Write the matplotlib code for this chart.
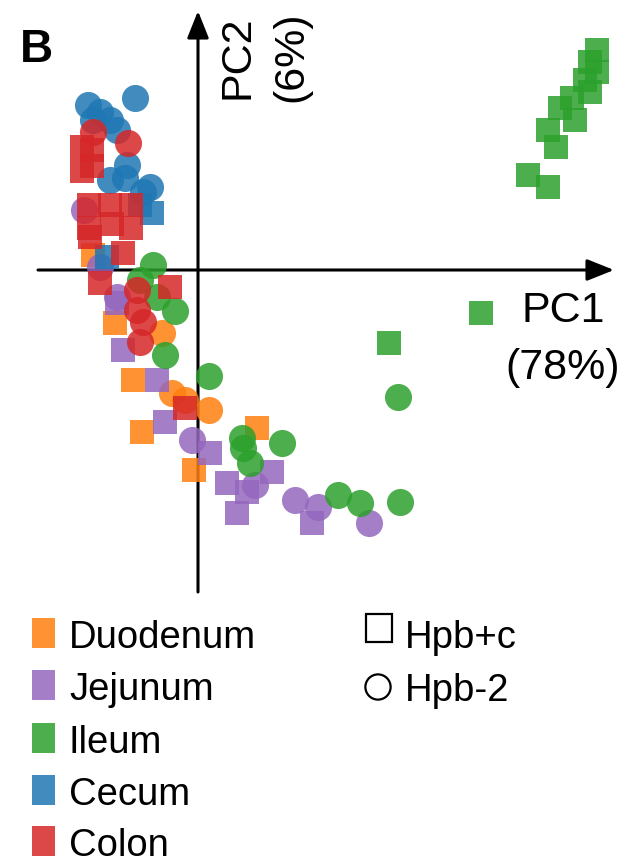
import matplotlib
matplotlib.use("Agg")
import matplotlib.pyplot as plt
from matplotlib.patches import Rectangle
import numpy as np

plt.rcParams['font.family'] = ['Liberation Sans', 'DejaVu Sans']

# ---- data: PCA scores (PC1, PC2) ----
tissues = ["Duodenum", "Jejunum", "Ileum", "Cecum", "Colon"]
colors = ["#ff7f0e", "#9467bd", "#2ca02c", "#1f77b4", "#d62728"]
strains = ["Hpb+c", "Hpb-2"]

duodenum_sq_pc1 = [-10.5, -8.3, -6.5, -5.6, -0.4, 5.9]
duodenum_sq_pc2 = [1.5, -5.3, -11.0, -16.2, -20.0, -15.8]
duodenum_ci_pc1 = [-3.6, -2.6, 1.1, -1.3]
duodenum_ci_pc2 = [-6.3, -12.3, -14.0, -13.0]

jejunum_sq_pc1 = [-8.1, -7.5, -4.1, -3.3, 1.2, 2.9, 3.9, 4.9, 7.4, 11.4]
jejunum_sq_pc2 = [-3.3, -8.0, -11.0, -15.2, -18.3, -21.3, -24.3, -22.2, -20.2, -25.3]
jejunum_ci_pc1 = [-11.4, -9.8, -8.1, -0.6, 5.7, 9.7, 12.0, 17.1]
jejunum_ci_pc2 = [6.0, 0.3, -2.7, -17.0, -21.5, -23.0, -23.7, -25.3]

ileum_sq_pc1 = [39.9, 39.2, 39.9, 38.7, 39.2, 37.4, 36.2, 37.7, 35.0, 35.8, 33.0, 35.0, 19.1, 28.3]
ileum_sq_pc2 = [22.0, 20.8, 19.8, 19.0, 17.8, 17.2, 16.2, 15.0, 14.0, 12.3, 9.5, 8.3, -7.3, -4.3]
ileum_ci_pc1 = [20.0, 20.2, 16.2, 14.0, 8.4, 4.4, 4.5, 5.2, 1.1, -3.3, -2.3, -4.1, -4.5, -5.8]
ileum_ci_pc2 = [-12.7, -23.2, -23.3, -22.5, -17.3, -16.8, -17.8, -19.3, -10.6, -8.5, -4.1, -2.7, 0.5, -1.0]

cecum_sq_pc1 = [-4.6, -9.1, -5.8]
cecum_sq_pc2 = [5.7, 1.3, 6.5]
cecum_ci_pc1 = [-6.3, -11.0, -9.8, -8.8, -10.5, -8.1, -7.1, -8.8, -4.8, -7.3, -5.5]
cecum_ci_pc2 = [17.2, 16.5, 15.8, 15.0, 15.0, 14.0, 10.5, 9.0, 8.3, 9.2, 7.8]

colon_sq_pc1 = [-11.6, -10.6, -11.6, -10.6, -10.9, -8.8, -6.7, -10.9, -8.6, -6.7,
                -10.8, -7.5, -9.8, -2.8, -1.3]
colon_sq_pc2 = [12.3, 12.0, 9.9, 10.4, 6.5, 6.5, 6.5, 4.2, 4.6, 4.2,
                3.3, 1.7, -1.3, -1.7, -13.8]
colon_ci_pc1 = [-10.5, -7.0, -6.1, -6.1, -5.5, -5.8]
colon_ci_pc2 = [13.8, 12.7, -2.0, -4.0, -5.2, -7.2]

groups = [
    (duodenum_sq_pc1, duodenum_sq_pc2, duodenum_ci_pc1, duodenum_ci_pc2),
    (jejunum_sq_pc1, jejunum_sq_pc2, jejunum_ci_pc1, jejunum_ci_pc2),
    (ileum_sq_pc1, ileum_sq_pc2, ileum_ci_pc1, ileum_ci_pc2),
    (cecum_sq_pc1, cecum_sq_pc2, cecum_ci_pc1, cecum_ci_pc2),
    (colon_sq_pc1, colon_sq_pc2, colon_ci_pc1, colon_ci_pc2),
]

pc1_label = ["PC1", "(78%)"]
pc2_label = ["PC2", "(6%)"]
panel_label = "B"

# ---- figure ----
W, H = 644, 864
fig = plt.figure(figsize=(W / 100, H / 100), dpi=100)
ax = fig.add_axes([0, 0, 1, 1])
ax.set_xlim(-19.8, 44.6)
ax.set_ylim(-59.4, 27.0)
ax.axis("off")


def X(px):
    return (px - 198) / 10.0


def Y(py):
    return (270 - py) / 10.0


alpha = 0.85
for (sx, sy, cx, cy), col in zip(groups, colors):
    ax.scatter(sx, sy, marker="s", s=300, color=col, alpha=alpha, linewidths=0, zorder=3)
    ax.scatter(cx, cy, marker="o", s=380, color=col, alpha=alpha, linewidths=0, zorder=3)

# axes arrows through origin
arrow = dict(arrowstyle="-|>,head_length=0.55,head_width=0.22", lw=2.2,
             color="black", shrinkA=0, shrinkB=0, mutation_scale=30)
ax.annotate("", xy=(X(614), 0), xytext=(X(38), 0), arrowprops=arrow, zorder=2)
ax.annotate("", xy=(0, Y(11)), xytext=(0, Y(592)), arrowprops=arrow, zorder=2)

# axis labels
ax.text(X(563), Y(322), pc1_label[0], fontsize=31, ha="center", va="baseline")
ax.text(X(563), Y(379), pc1_label[1], fontsize=31, ha="center", va="baseline")
ax.text(X(249), Y(57), pc2_label[0], fontsize=31, ha="center", va="baseline",
        rotation=90, rotation_mode="anchor")
ax.text(X(302), Y(57), pc2_label[1], fontsize=31, ha="center", va="baseline",
        rotation=90, rotation_mode="anchor")

# panel label
ax.text(X(20), Y(62), panel_label, fontsize=33, fontweight="bold", ha="left", va="baseline")

# tissue legend
row_centers = [633, 685, 738, 790, 841]
for name, col, yc in zip(tissues, colors, row_centers):
    ax.add_patch(Rectangle((X(32), Y(yc + 15)), 2.3, 3.0, facecolor=col,
                           alpha=alpha, edgecolor="none"))
    ax.text(X(69), Y(yc + 15), name, fontsize=27.5, ha="left", va="baseline")

# strain legend
ax.add_patch(Rectangle((X(366), Y(642)), 2.6, 2.8, facecolor="none",
                       edgecolor="black", lw=1.6))
ax.scatter([X(378)], [Y(687)], marker="o", s=330, facecolors="none",
           edgecolors="black", linewidths=1.6)
ax.text(X(405), Y(648), strains[0], fontsize=27.5, ha="left", va="baseline")
ax.text(X(405), Y(701), strains[1], fontsize=27.5, ha="left", va="baseline")

fig.savefig("out.png", dpi=100)
